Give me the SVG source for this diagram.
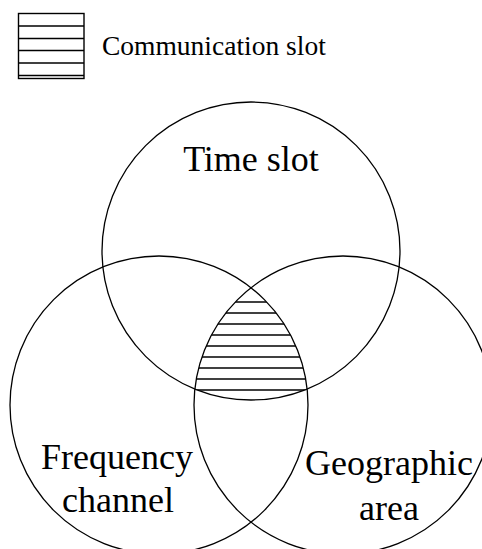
<svg xmlns="http://www.w3.org/2000/svg" width="482" height="549" viewBox="0 0 482 549">
  <style>
    .c { fill: none; stroke: #000; stroke-width: 1.3; }
    .h { stroke: #000; stroke-width: 1.4; }
    .t { font-family: "Liberation Serif", "Times New Roman", serif; fill: #000; }
    .big { font-size: 36px; text-anchor: middle; }
  </style>
  <defs>
    <clipPath id="cTop"><circle cx="251" cy="251" r="149"/></clipPath>
    <clipPath id="cLeft"><circle cx="159" cy="405" r="149"/></clipPath>
    <clipPath id="cRight"><circle cx="343" cy="405" r="149"/></clipPath>
  </defs>
  <rect width="482" height="549" fill="#fff"/>

  <g id="legend">
    <rect x="18.5" y="13.5" width="65.5" height="65" fill="#fff" stroke="#000" stroke-width="1.4"/>
    <g class="h">
      <line x1="18.5" y1="26" x2="84" y2="26"/>
      <line x1="18.5" y1="38.5" x2="84" y2="38.5"/>
      <line x1="18.5" y1="50.5" x2="84" y2="50.5"/>
      <line x1="18.5" y1="63" x2="84" y2="63"/>
      <line x1="18.5" y1="75.5" x2="84" y2="75.5"/>
    </g>
    <text class="t" x="102" y="55" font-size="27.5">Communication slot</text>
  </g>

  <g id="communication-slot">
    <g clip-path="url(#cTop)">
      <g clip-path="url(#cLeft)">
        <g clip-path="url(#cRight)" class="h">
          <line x1="180" y1="302" x2="320" y2="302"/>
          <line x1="180" y1="313" x2="320" y2="313"/>
          <line x1="180" y1="324" x2="320" y2="324"/>
          <line x1="180" y1="335" x2="320" y2="335"/>
          <line x1="180" y1="346" x2="320" y2="346"/>
          <line x1="180" y1="357" x2="320" y2="357"/>
          <line x1="180" y1="368" x2="320" y2="368"/>
          <line x1="180" y1="379" x2="320" y2="379"/>
          <line x1="180" y1="390" x2="320" y2="390"/>
        </g>
      </g>
    </g>
  </g>

  <g id="time-slot">
    <circle class="c" cx="251" cy="251" r="149"/>
    <text class="t big" x="251" y="171">Time slot</text>
  </g>

  <g id="frequency-channel">
    <circle class="c" cx="159" cy="405" r="149"/>
    <text class="t big" x="117" y="469">Frequency</text>
    <text class="t big" x="118" y="512">channel</text>
  </g>

  <g id="geographic-area">
    <circle class="c" cx="343" cy="405" r="149"/>
    <text class="t big" x="389" y="475">Geographic</text>
    <text class="t big" x="389" y="520">area</text>
  </g>

  <g id="connectors"></g>
</svg>
